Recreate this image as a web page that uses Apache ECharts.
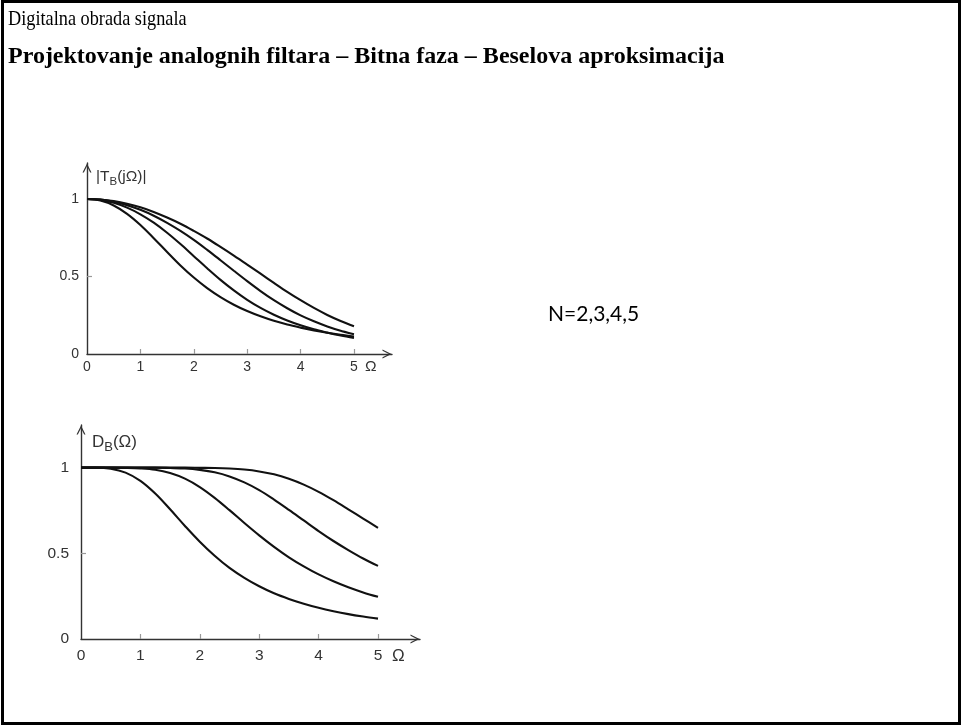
<!DOCTYPE html>
<html>
<head>
<meta charset="utf-8">
<style>html,body{margin:0;padding:0;background:#fff;}#c{width:963px;height:727px;}</style>
<script src="https://cdn.jsdelivr.net/npm/echarts@6/dist/echarts.min.js"></script>
</head>
<body>
<div id="c"></div>
<script>
// Omega sample points (shared by both plots)
var omega = [0, 0.25, 0.5, 0.75, 1, 1.25, 1.5, 1.75, 2, 2.25, 2.5, 2.75, 3, 3.25, 3.5, 3.75, 4, 4.25, 4.5, 4.75, 5];

// |T_B(jΩ)|, N = 2..5
var magN2 = [1, 0.990, 0.958, 0.904, 0.832, 0.747, 0.658, 0.571, 0.493, 0.425, 0.367, 0.318, 0.277, 0.243, 0.214, 0.190, 0.170, 0.152, 0.137, 0.124, 0.113];
var magN3 = [1, 0.994, 0.975, 0.944, 0.901, 0.847, 0.782, 0.709, 0.631, 0.553, 0.478, 0.410, 0.349, 0.297, 0.253, 0.216, 0.185, 0.159, 0.138, 0.119, 0.104];
var magN4 = [1, 0.996, 0.982, 0.960, 0.930, 0.892, 0.846, 0.794, 0.736, 0.672, 0.605, 0.537, 0.470, 0.406, 0.347, 0.295, 0.249, 0.211, 0.178, 0.150, 0.127];
var magN5 = [1, 0.997, 0.986, 0.969, 0.946, 0.916, 0.880, 0.840, 0.794, 0.745, 0.691, 0.635, 0.577, 0.518, 0.459, 0.401, 0.347, 0.297, 0.252, 0.213, 0.179];

// D_B(Ω), N = 2..5
var delN2 = [1, 1.000, 0.994, 0.971, 0.923, 0.849, 0.757, 0.660, 0.568, 0.486, 0.415, 0.357, 0.308, 0.267, 0.234, 0.206, 0.182, 0.162, 0.145, 0.131, 0.119];
var delN3 = [1, 1.000, 1.000, 0.999, 0.996, 0.988, 0.969, 0.936, 0.887, 0.824, 0.752, 0.677, 0.605, 0.538, 0.477, 0.424, 0.377, 0.337, 0.302, 0.272, 0.246];
var delN4 = [1, 1.000, 1.000, 1.000, 1.000, 1.000, 0.998, 0.995, 0.987, 0.973, 0.949, 0.914, 0.869, 0.814, 0.754, 0.692, 0.630, 0.572, 0.519, 0.470, 0.427];
var delN5 = [1, 1.000, 1.000, 1.000, 1.000, 1.000, 1.000, 1.000, 0.999, 0.998, 0.995, 0.989, 0.978, 0.961, 0.935, 0.901, 0.859, 0.810, 0.757, 0.703, 0.649];

// tick labels
var xTickLabels = [0, 1, 2, 3, 4, 5];
var xTicks = [1, 2, 3, 4, 5];
var yTickLabels = [0, 0.5, 1];
var yTicks = [0.5, 1];

var titleLine1 = 'Digitalna obrada signala';
var titleLine2 = 'Projektovanje analognih filtara \u2013 Bitna faza \u2013 Beselova aproksimacija';
var noteText = 'N=2,3,4,5';

var arrowPath = 'path://M0,10 L5,0 L10,10 L8.5,10 L5,3 L1.5,10 Z';
var labelFont = 'Liberation Sans';

function pairs(ys) {
  return omega.map(function (x, i) { return [x, ys[i]]; });
}

function makeX(gridIndex, max, fs, margin, nameGap, namePad) {
  return {
    type: 'value', gridIndex: gridIndex, min: 0, max: max,
    name: '\u03a9', nameLocation: 'end', nameGap: nameGap,
    nameTextStyle: { fontFamily: labelFont, fontSize: fs + 1.5, color: '#333', align: 'left', verticalAlign: 'top', padding: [namePad, 0, 0, 0] },
    splitLine: { show: false },
    axisLine: { show: true, symbol: ['none', arrowPath], symbolSize: [9, 10], symbolOffset: [0, -5], lineStyle: { color: '#333', width: 1.4 } },
    axisTick: { show: true, inside: true, length: 5, customValues: xTicks, lineStyle: { color: '#999', width: 1.2 } },
    axisLabel: { customValues: xTickLabels, fontFamily: labelFont, fontSize: fs, color: '#333', margin: margin }
  };
}

function makeY(gridIndex, max, fs, margin, nameRich, nameGap, nameFs, namePadL) {
  return {
    type: 'value', gridIndex: gridIndex, min: 0, max: max,
    name: nameRich, nameLocation: 'end', nameGap: nameGap,
    nameTextStyle: {
      align: 'left', verticalAlign: 'middle', padding: [0, 0, 0, namePadL],
      rich: {
        m: { fontFamily: labelFont, fontSize: nameFs, color: '#333' },
        s: { fontFamily: labelFont, fontSize: nameFs - 4, color: '#333', padding: [10, 0, 0, 0] }
      }
    },
    splitLine: { show: false },
    axisLine: { show: true, symbol: ['none', arrowPath], symbolSize: [9, 10], symbolOffset: [0, -5], lineStyle: { color: '#333', width: 1.4 } },
    axisTick: { show: true, inside: true, length: 5, customValues: yTicks, lineStyle: { color: '#999', width: 1.2 } },
    axisLabel: { customValues: yTickLabels, fontFamily: labelFont, fontSize: fs, color: '#333', margin: margin }
  };
}

function line(xi, yi, ys) {
  return {
    type: 'line', xAxisIndex: xi, yAxisIndex: yi, data: pairs(ys),
    smooth: 0.35, showSymbol: false, symbol: 'none', animation: false,
    lineStyle: { color: '#111', width: 2.1 }
  };
}

var chart = echarts.init(document.getElementById('c'), null, { renderer: 'canvas' });
chart.setOption({
  backgroundColor: '#ffffff',
  animation: false,
  grid: [
    { left: 87, top: 163, width: 305, height: 191, containLabel: false },
    { left: 81, top: 425, width: 339, height: 214, containLabel: false }
  ],
  xAxis: [
    makeX(0, 5.712, 14, 6, -27, 5),
    makeX(1, 5.707, 15.5, 9, -28, 9)
  ],
  yAxis: [
    makeY(0, 1.232, 14, 8, '{m||T}{s|B}{m|(j\u03a9)|}', -14, 15.5, 9),
    makeY(1, 1.249, 15.5, 12, '{m|D}{s|B}{m|(\u03a9)}', -17, 17, 11)
  ],
  series: [
    line(0, 0, magN2), line(0, 0, magN3), line(0, 0, magN4), line(0, 0, magN5),
    line(1, 1, delN2), line(1, 1, delN3), line(1, 1, delN4), line(1, 1, delN5)
  ],
  graphic: [
    { type: 'rect', shape: { x: 2.5, y: 1.5, width: 957, height: 722 }, style: { fill: 'none', stroke: '#000', lineWidth: 3 }, silent: true },
    { type: 'text', x: 8, y: 9, scaleX: 0.87, style: { text: titleLine1, font: '21px "Liberation Serif"', fill: '#000', textVerticalAlign: 'top' } },
    { type: 'text', x: 8, y: 45, style: { text: titleLine2, font: 'bold 24px "Liberation Serif"', fill: '#000', textVerticalAlign: 'top' } },
    { type: 'text', x: 548, y: 304, style: { text: noteText, font: '21px Lato', fill: '#000', textVerticalAlign: 'top' } }
  ]
});
</script>
</body>
</html>
